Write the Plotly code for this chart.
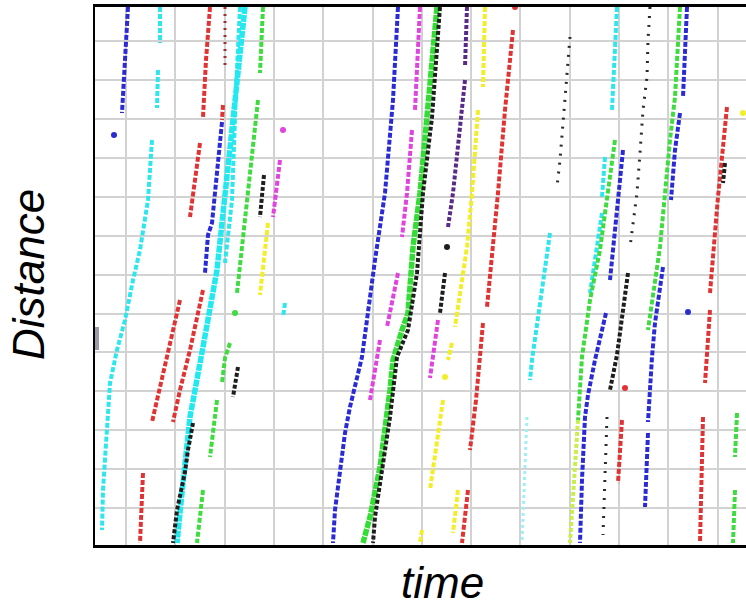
import plotly.graph_objects as go

# ---- data: trajectories (time, distance) ----
BLUE = [
    [(33, 538), (30, 485), (27, 432)],
    [(19, 410)],
    [(127, 423), (120, 352), (117, 322), (113, 310), (110, 272)],
    [(303, 538), (298, 445), (290, 352), (280, 285), (267, 188), (255, 138), (250, 112), (240, 35), (238, 2)],
    [(528, 395), (523, 345), (519, 305), (515, 265)],
    [(511, 232), (503, 200), (500, 185), (493, 150), (490, 128), (487, 65), (485, 2)],
    [(592, 538), (588, 448)],
    [(585, 432), (580, 395), (576, 345)],
    [(568, 278), (563, 238), (560, 222), (557, 188), (553, 123)],
    [(553, 112), (550, 38)],
    [(593, 233)],
]
CYAN = [
    [(65, 538), (65, 502)],
    [(63, 475), (62, 437)],
    [(57, 405), (53, 345), (45, 295), (38, 265), (30, 225), (22, 195), (15, 162), (12, 112), (8, 55), (7, 15)],
    [(145, 538), (141, 455), (137, 345), (130, 282)],
    [(190, 242), (188, 228)],
    [(455, 312), (445, 245), (437, 185), (435, 165)],
    [(522, 538), (517, 435)],
    [(510, 388), (507, 348)],
    [(507, 332), (495, 252)],
]
CYAN_THICK = [
    [(150, 538), (140, 445), (130, 348), (122, 275), (108, 198), (95, 128), (88, 62), (82, 2)],
]
CYAN_FAINT = [
    [(432, 128), (427, 2)],
]
RED = [
    [(115, 538), (111, 485), (108, 428)],
    [(105, 402), (98, 345), (95, 328)],
    [(128, 440), (127, 425)],
    [(108, 255), (100, 215), (95, 195), (85, 155), (78, 123)],
    [(85, 245), (73, 193), (65, 160), (57, 123)],
    [(48, 72), (45, 2)],
    [(420, 538)],
    [(418, 515), (410, 435), (403, 352), (398, 298), (392, 238)],
    [(388, 222), (385, 185), (381, 145), (375, 95)],
    [(373, 55), (367, 2)],
    [(632, 438), (623, 348), (615, 252)],
    [(615, 235), (612, 188), (610, 162)],
    [(608, 128), (605, 2)],
    [(527, 125), (523, 62)],
    [(530, 157)],
]
DARK_RED = [
    [(130, 538), (130, 475)],
]
GREEN = [
    [(168, 538), (165, 472)],
    [(163, 445), (152, 348), (142, 252)],
    [(140, 232)],
    [(135, 202), (130, 187), (127, 162)],
    [(122, 145), (115, 88)],
    [(108, 55), (102, 2)],
    [(520, 405), (512, 345), (505, 295), (495, 245), (487, 188), (483, 125)],
    [(585, 538), (580, 448), (575, 405), (570, 348), (565, 298), (553, 215)],
    [(642, 132), (640, 88)],
    [(640, 55), (638, 2)],
]
GREEN_THICK = [
    [(342, 538), (332, 435), (325, 352), (318, 298), (313, 232), (307, 215), (298, 185), (295, 155), (285, 78), (275, 28), (268, 2)],
]
YELLOW_GREEN = [
    [(483, 125), (479, 65), (475, 2)],
]
BLACK = [
    [(169, 370), (165, 328)],
    [(143, 178), (138, 148)],
    [(98, 122), (93, 95), (90, 73), (82, 35), (78, 2)],
    [(345, 538), (337, 428), (328, 352), (322, 272), (313, 215), (302, 188), (295, 128), (288, 78), (280, 28), (278, 2)],
    [(352, 298)],
    [(350, 272), (345, 232)],
    [(533, 272), (527, 225), (522, 190), (515, 155)],
    [(630, 382), (628, 362)],
]
BLACK_SPARSE = [
    [(475, 508), (470, 445), (465, 385), (462, 358)],
    [(555, 538), (553, 505), (552, 468), (548, 435), (545, 392), (542, 352), (535, 298)],
    [(512, 128), (510, 60), (508, 10)],
]
PURPLE = [
    [(372, 538), (370, 478)],
    [(370, 465), (358, 352), (353, 318)],
]
MAGENTA = [
    [(325, 538), (320, 435)],
    [(317, 415), (312, 352), (307, 308)],
    [(303, 272), (292, 218)],
    [(285, 205), (282, 185), (275, 145)],
    [(343, 225), (338, 192), (335, 167)],
    [(188, 415)],
    [(185, 385), (178, 328)],
]
YELLOW = [
    [(390, 538), (388, 458)],
    [(383, 435), (377, 352), (372, 298), (360, 218)],
    [(357, 202), (353, 185)],
    [(350, 168)],
    [(348, 145), (335, 55)],
    [(363, 55), (358, 12)],
    [(327, 15), (325, 2)],
    [(173, 322), (165, 250)],
    [(648, 432)],
]
GRAY = [
    [(2, 218), (2, 195)],
]

GROUPS = [
    (CYAN_FAINT, "#9ff0f4", 3, "3px,3px"),
    (YELLOW_GREEN, "#c8ee50", 4, "4px,2px"),
    (YELLOW, "#f2ee2a", 4, "5px,2px"),
    (CYAN, "#2ee6ee", 4, "5px,2px"),
    (CYAN_THICK, "#22e8f0", 5.5, "7px,1px"),
    (GREEN, "#3fdc3f", 4, "5px,2px"),
    (GREEN_THICK, "#33dd33", 5.5, "7px,1px"),
    (RED, "#e03434", 4, "5px,2px"),
    (DARK_RED, "#a03030", 3, "2px,5px"),
    (MAGENTA, "#e043e0", 4, "5px,2px"),
    (PURPLE, "#5a2a8a", 4, "4px,2px"),
    (BLUE, "#2b2bd6", 4, "5px,2px"),
    (BLACK, "#1e1e1e", 4, "4px,2px"),
    (BLACK_SPARSE, "#2a2a2a", 3, "2px,7px"),
    (GRAY, "#9a9aa8", 4, "solid"),
]

fig = go.Figure()
for segs, color, w, dash in GROUPS:
    for seg in segs:
        t = [p[0] for p in seg]
        d = [p[1] for p in seg]
        if len(seg) == 1:
            fig.add_trace(go.Scatter(x=t, y=d, mode="markers",
                                     marker=dict(color=color, size=6),
                                     showlegend=False, hoverinfo="skip"))
        else:
            fig.add_trace(go.Scatter(x=t, y=d, mode="lines",
                                     line=dict(color=color, width=w, dash=dash),
                                     showlegend=False, hoverinfo="skip"))

W, H = 746, 607
L, T, B = 95, 7, 62

fig.update_layout(
    width=W, height=H,
    margin=dict(l=L, r=0, t=T, b=B, pad=0),
    paper_bgcolor="white", plot_bgcolor="white",
    xaxis=dict(range=[0, 651], tick0=31, dtick=49.3, showgrid=True,
               gridcolor="#d2d2d2", gridwidth=2, zeroline=False,
               showticklabels=False, ticks="", showline=True,
               linecolor="black", linewidth=2.5, mirror=True, fixedrange=True),
    yaxis=dict(range=[0, 538], tick0=37, dtick=38.9, showgrid=True,
               gridcolor="#d2d2d2", gridwidth=2, zeroline=False,
               showticklabels=False, ticks="", showline=True,
               linecolor="black", linewidth=2, mirror=False, fixedrange=True),
    annotations=[
        dict(text="Distance", xref="paper", yref="paper",
             x=(28 - L) / 651, y=(545 - 275) / 538, xanchor="center", yanchor="middle",
             textangle=-90, showarrow=False,
             font=dict(family="Liberation Sans, Arial", size=44, color="black", style="italic")),
        dict(text="time", xref="paper", yref="paper",
             x=(442 - L) / 651, y=(545 - 582) / 538, xanchor="center", yanchor="middle",
             showarrow=False,
             font=dict(family="Liberation Sans, Arial", size=44, color="black", style="italic")),
    ],
)

fig.write_html(
    "out.html",
    config={"displayModeBar": False},
    post_script="document.body.style.margin='0';document.body.style.overflow='hidden';",
)
